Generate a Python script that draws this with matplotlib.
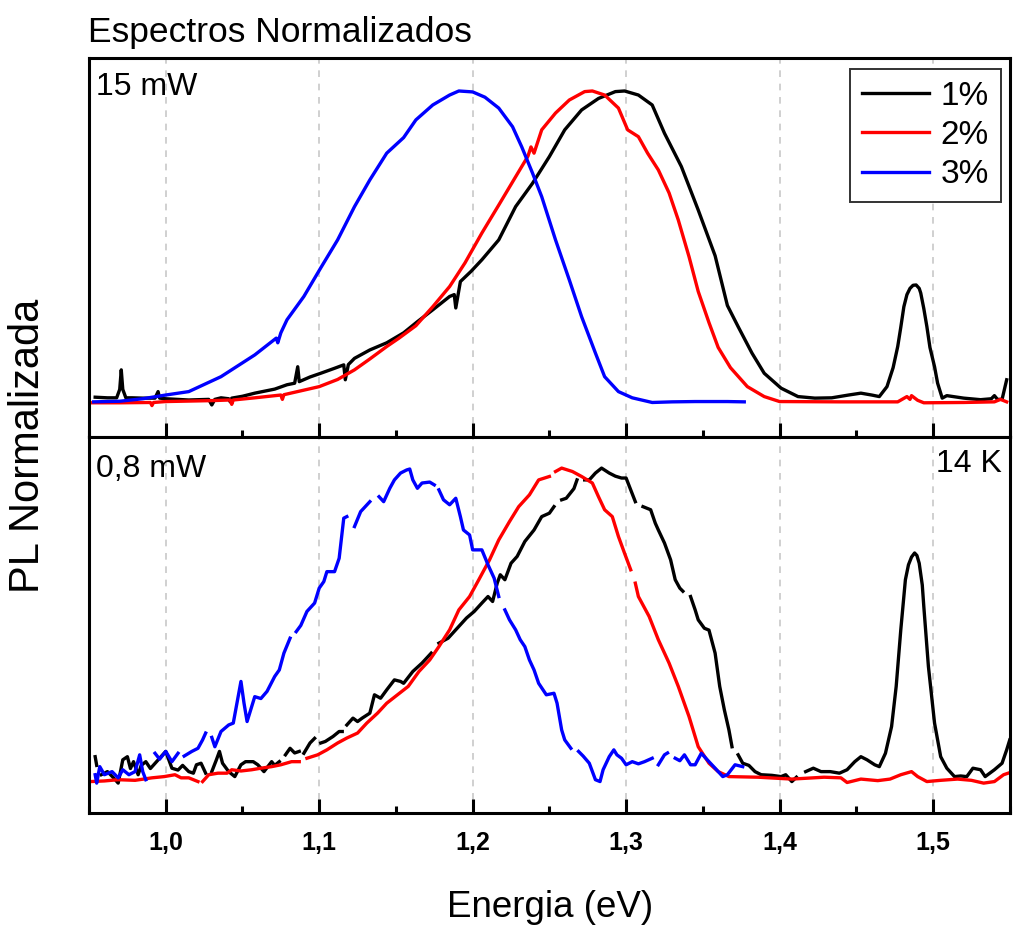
import matplotlib
matplotlib.use("Agg")
import matplotlib.pyplot as plt
from matplotlib.ticker import MultipleLocator
import numpy as np

nan = np.nan

plt.rcParams['font.family'] = ['Liberation Sans', 'DejaVu Sans']

# ---- top panel (15 mW) ----
top_e_1 = [0.954, 0.962, 0.968, 0.970, 0.971, 0.972, 0.974, 0.978, 0.985, 0.993, 0.995, 0.996,
           1.000, 1.015, 1.028, 1.030, 1.032, 1.036, 1.041, 1.042, 1.043, 1.050, 1.058, 1.071,
           1.079, 1.084, 1.086, 1.087, 1.094, 1.101, 1.110, 1.116, 1.117, 1.119, 1.123, 1.133,
           1.144, 1.155, 1.164, 1.174, 1.185, 1.188, 1.189, 1.192, 1.199, 1.206, 1.217, 1.228,
           1.239, 1.250, 1.260, 1.271, 1.282, 1.293, 1.299, 1.308, 1.317, 1.325, 1.336, 1.347,
           1.358, 1.366, 1.373, 1.382, 1.390, 1.401, 1.412, 1.423, 1.434, 1.445, 1.453, 1.460,
           1.465, 1.470, 1.474, 1.477, 1.479, 1.481, 1.483, 1.485, 1.487, 1.489, 1.491, 1.492,
           1.494, 1.496, 1.498, 1.501, 1.503, 1.506, 1.509, 1.520, 1.531, 1.538, 1.540, 1.542,
           1.545, 1.548]
top_i_1 = [0.015, 0.013, 0.013, 0.040, 0.103, 0.040, 0.013, 0.013, 0.012, 0.012, 0.033, 0.012,
           0.010, 0.006, 0.008, -0.010, 0.008, 0.013, 0.010, 0.000, 0.012, 0.018, 0.028, 0.041,
           0.055, 0.060, 0.113, 0.065, 0.080, 0.092, 0.108, 0.119, 0.071, 0.120, 0.140, 0.167,
           0.190, 0.222, 0.258, 0.296, 0.339, 0.345, 0.302, 0.387, 0.420, 0.457, 0.521, 0.628,
           0.703, 0.789, 0.875, 0.939, 0.976, 0.998, 1.000, 0.987, 0.955, 0.864, 0.757, 0.617,
           0.470, 0.310, 0.242, 0.157, 0.092, 0.044, 0.017, 0.012, 0.013, 0.022, 0.028, 0.022,
           0.017, 0.049, 0.110, 0.178, 0.240, 0.306, 0.345, 0.365, 0.375, 0.376, 0.365, 0.350,
           0.300, 0.242, 0.175, 0.113, 0.060, 0.012, 0.020, 0.012, 0.007, 0.010, 0.020, 0.008,
           0.008, 0.071]

top_e_2 = [0.950, 0.970, 0.990, 0.991, 0.992, 1.000, 1.030, 1.042, 1.043, 1.044, 1.058, 1.075,
           1.076, 1.077, 1.100, 1.112, 1.123, 1.133, 1.144, 1.152, 1.163, 1.174, 1.185, 1.195,
           1.206, 1.217, 1.228, 1.236, 1.238, 1.240, 1.245, 1.254, 1.263, 1.273, 1.278, 1.286,
           1.295, 1.301, 1.308, 1.314, 1.321, 1.328, 1.334, 1.341, 1.347, 1.354, 1.360, 1.368,
           1.379, 1.390, 1.400, 1.440, 1.477, 1.483, 1.485, 1.486, 1.490, 1.494, 1.520, 1.540,
           1.544, 1.548]
top_i_2 = [-0.003, -0.003, -0.002, -0.012, -0.002, 0.001, 0.004, 0.006, -0.008, 0.006, 0.013, 0.022,
           0.008, 0.023, 0.049, 0.072, 0.103, 0.138, 0.178, 0.205, 0.245, 0.306, 0.371, 0.447,
           0.543, 0.633, 0.724, 0.790, 0.820, 0.800, 0.875, 0.929, 0.971, 0.998, 1.000, 0.987,
           0.945, 0.875, 0.853, 0.800, 0.746, 0.672, 0.585, 0.467, 0.355, 0.255, 0.175, 0.110,
           0.049, 0.017, 0.001, 0.000, 0.000, 0.017, 0.008, 0.020, 0.005, -0.003, -0.002, 0.000,
           0.008, 0.000]

top_e_3 = [0.953, 0.970, 0.985, 1.000, 1.015, 1.036, 1.058, 1.072, 1.073, 1.075, 1.079, 1.090,
           1.101, 1.112, 1.123, 1.133, 1.144, 1.155, 1.163, 1.174, 1.185, 1.191, 1.200, 1.208,
           1.217, 1.226, 1.232, 1.239, 1.245, 1.254, 1.263, 1.271, 1.280, 1.286, 1.295, 1.304,
           1.317, 1.330, 1.345, 1.366, 1.377]
top_i_3 = [0.000, 0.002, 0.010, 0.022, 0.033, 0.081, 0.151, 0.205, 0.190, 0.222, 0.264, 0.339,
           0.431, 0.521, 0.628, 0.714, 0.800, 0.850, 0.907, 0.955, 0.987, 1.000, 0.997, 0.980,
           0.945, 0.885, 0.820, 0.736, 0.660, 0.521, 0.392, 0.274, 0.157, 0.081, 0.033, 0.013,
           -0.002, 0.000, 0.001, 0.001, 0.000]

# ---- bottom panel (0,8 mW) ----
bot_e_1 = [0.954, 0.955, nan, 0.958, 0.962, 0.966, 0.969, 0.972, 0.975, 0.977, 0.979, 0.982,
           0.984, 0.987, 0.990, 0.994, 0.997, 1.000, 1.004, 1.008, 1.011, 1.015, 1.018, 1.020,
           1.023, 1.026, nan, 1.030, 1.033, 1.035, 1.037, 1.041, 1.045, 1.049, 1.052, 1.057,
           1.060, 1.064, 1.069, 1.071, 1.074, nan, 1.078, 1.081, 1.084, 1.087, nan, 1.090,
           1.094, 1.097, nan, 1.101, 1.104, 1.109, 1.113, 1.115, nan, 1.118, 1.122, 1.125,
           1.128, 1.133, 1.136, 1.140, 1.144, 1.149, 1.153, 1.155, 1.161, 1.167, 1.173, nan,
           1.178, 1.184, 1.189, 1.196, 1.201, 1.206, 1.210, 1.213, 1.216, 1.218, 1.221, 1.225,
           1.229, 1.234, 1.240, 1.245, 1.250, 1.253, nan, 1.258, 1.261, 1.266, 1.268, nan,
           1.273, 1.276, 1.280, 1.284, 1.289, 1.293, 1.297, 1.300, 1.303, 1.306, nan, 1.311,
           1.316, 1.319, 1.321, 1.325, 1.329, 1.332, 1.335, 1.337, nan, 1.342, 1.345, 1.347,
           1.351, 1.354, 1.358, 1.361, 1.364, 1.367, 1.369, nan, 1.373, 1.376, 1.380, 1.384,
           1.388, 1.395, 1.401, 1.404, 1.408, 1.411, nan, 1.417, 1.422, 1.427, 1.433, 1.439,
           1.444, 1.449, 1.453, 1.457, 1.462, 1.465, 1.469, 1.473, 1.476, 1.479, 1.482, 1.484,
           1.486, 1.488, 1.4895, 1.491, 1.493, 1.494, 1.497, 1.501, 1.505, 1.509, 1.514, 1.518,
           1.522, 1.526, 1.531, 1.534, 1.540, 1.545, 1.548, 1.550]
bot_i_1 = [0.068, 0.040, nan, 0.010, 0.020, 0.000, -0.017, 0.058, 0.068, 0.030, 0.052, 0.010,
           0.040, 0.052, 0.030, 0.052, 0.068, 0.085, 0.031, 0.025, 0.040, 0.020, 0.015, 0.042,
           0.047, 0.015, nan, 0.020, 0.058, 0.085, 0.047, 0.020, 0.004, 0.042, 0.052, 0.052,
           0.042, 0.020, 0.052, 0.040, 0.052, nan, 0.074, 0.095, 0.080, 0.085, nan, 0.079,
           0.112, 0.127, nan, 0.112, 0.117, 0.133, 0.149, 0.149, nan, 0.170, 0.192, 0.181,
           0.192, 0.208, 0.267, 0.256, 0.283, 0.315, 0.310, 0.304, 0.342, 0.369, 0.401, nan,
           0.433, 0.449, 0.476, 0.514, 0.535, 0.562, 0.583, 0.567, 0.626, 0.653, 0.637, 0.690,
           0.712, 0.760, 0.797, 0.840, 0.851, 0.872, nan, 0.894, 0.899, 0.930, 0.958, nan,
           0.958, 0.958, 0.980, 0.996, 0.980, 0.970, 0.964, 0.964, 0.926, 0.888, nan, 0.872,
           0.862, 0.819, 0.797, 0.755, 0.701, 0.637, 0.610, 0.600, nan, 0.583, 0.540, 0.508,
           0.481, 0.475, 0.401, 0.294, 0.219, 0.154, 0.100, nan, 0.074, 0.047, 0.040, 0.020,
           0.010, 0.008, 0.004, 0.010, -0.012, 0.002, nan, 0.020, 0.031, 0.020, 0.020, 0.015,
           0.026, 0.052, 0.068, 0.058, 0.042, 0.036, 0.079, 0.165, 0.294, 0.476, 0.637, 0.685,
           0.710, 0.723, 0.715, 0.690, 0.620, 0.551, 0.358, 0.176, 0.068, 0.031, 0.004, 0.006,
           0.004, 0.031, 0.026, 0.004, 0.026, 0.047, 0.090, 0.122]

bot_e_2 = [0.951, 0.960, 0.969, 0.980, 0.991, 0.999, 1.006, 1.010, 1.015, 1.021, nan, 1.024,
           1.028, 1.034, 1.040, 1.043, 1.049, 1.056, 1.062, 1.069, 1.075, 1.082, 1.087, nan,
           1.092, 1.099, 1.105, 1.112, 1.118, 1.125, 1.131, 1.138, 1.144, 1.151, 1.158, 1.165,
           1.172, 1.178, 1.185, 1.191, 1.198, 1.204, 1.211, 1.217, 1.224, 1.230, 1.237, 1.243,
           1.250, nan, 1.254, 1.258, 1.265, 1.271, 1.278, 1.282, 1.286, 1.291, 1.295, 1.299,
           1.303, nan, 1.306, 1.308, 1.315, 1.321, 1.328, 1.334, 1.341, 1.347, 1.354, 1.360,
           1.367, 1.386, 1.408, 1.429, 1.440, 1.444, 1.453, 1.464, 1.472, 1.479, 1.486, 1.490,
           1.496, 1.505, 1.516, 1.525, 1.533, 1.540, 1.546, 1.549]
bot_i_2 = [-0.012, -0.010, -0.006, -0.008, 0.000, 0.004, 0.010, 0.000, 0.000, -0.012, nan, -0.012,
           0.010, 0.015, 0.015, 0.026, 0.022, 0.026, 0.031, 0.036, 0.042, 0.052, 0.052, nan,
           0.063, 0.074, 0.090, 0.112, 0.128, 0.144, 0.176, 0.208, 0.240, 0.267, 0.294, 0.342,
           0.379, 0.422, 0.476, 0.540, 0.583, 0.637, 0.701, 0.765, 0.824, 0.872, 0.910, 0.958,
           0.969, nan, 0.985, 0.996, 0.985, 0.969, 0.948, 0.904, 0.862, 0.840, 0.776, 0.722,
           0.669, nan, 0.626, 0.583, 0.519, 0.444, 0.369, 0.294, 0.197, 0.100, 0.047, 0.020,
           0.004, 0.002, -0.004, 0.002, 0.000, -0.015, -0.004, -0.009, -0.004, 0.010, 0.020, 0.004,
           -0.012, -0.008, -0.004, -0.008, -0.017, -0.012, 0.010, 0.015]

bot_e_3 = [0.954, 0.955, 0.957, 0.960, 0.965, 0.969, 0.972, 0.976, 0.980, 0.983, 0.985, 0.987,
           nan, 0.993, 0.996, 1.000, 1.004, 1.008, nan, 1.012, 1.017, 1.021, 1.024, 1.026,
           nan, 1.030, 1.032, 1.036, 1.041, 1.044, 1.046, 1.049, 1.051, 1.053, 1.058, 1.062,
           1.066, 1.071, 1.074, 1.077, 1.081, nan, 1.085, 1.088, 1.092, 1.097, 1.100, 1.103,
           1.105, 1.110, 1.113, 1.116, 1.118, nan, 1.123, 1.127, 1.133, nan, 1.139, 1.142,
           1.146, 1.149, 1.153, 1.157, 1.159, 1.161, 1.164, 1.167, 1.172, 1.175, nan, 1.178,
           1.181, 1.185, 1.189, 1.192, 1.194, 1.198, 1.200, 1.206, 1.210, 1.214, 1.217, nan,
           1.221, 1.224, 1.228, 1.231, 1.234, 1.237, 1.240, 1.243, 1.248, 1.253, 1.255, 1.258,
           1.260, 1.264, nan, 1.269, 1.272, 1.276, 1.280, 1.283, 1.285, 1.289, 1.292, 1.294,
           1.297, 1.300, 1.304, 1.308, 1.312, 1.317, nan, 1.321, 1.325, 1.327, nan, 1.332,
           1.335, 1.338, 1.342, 1.345, 1.349, 1.354, 1.358, 1.363, 1.366, 1.371, 1.376]
bot_i_3 = [0.010, -0.017, 0.036, 0.010, 0.020, 0.000, 0.026, 0.010, 0.020, 0.074, 0.020, -0.006,
           nan, 0.079, 0.060, 0.085, 0.052, 0.079, nan, 0.070, 0.085, 0.095, 0.122, 0.144,
           nan, 0.130, 0.100, 0.149, 0.170, 0.176, 0.229, 0.310, 0.240, 0.181, 0.261, 0.255,
           0.278, 0.326, 0.347, 0.401, 0.449, nan, 0.470, 0.490, 0.535, 0.562, 0.610, 0.631,
           0.663, 0.663, 0.706, 0.835, 0.840, nan, 0.808, 0.856, 0.888, nan, 0.904, 0.888,
           0.931, 0.958, 0.980, 0.990, 0.993, 0.958, 0.931, 0.948, 0.951, 0.942, nan, 0.926,
           0.894, 0.878, 0.899, 0.840, 0.797, 0.781, 0.733, 0.733, 0.685, 0.642, 0.583, nan,
           0.540, 0.508, 0.476, 0.444, 0.422, 0.379, 0.347, 0.304, 0.267, 0.272, 0.240, 0.154,
           0.122, 0.095, nan, 0.085, 0.070, 0.047, -0.006, -0.012, 0.026, 0.068, 0.090, 0.074,
           0.063, 0.042, 0.052, 0.045, 0.052, 0.063, nan, 0.042, 0.074, 0.080, nan, 0.063,
           0.055, 0.074, 0.042, 0.042, 0.079, 0.052, 0.031, 0.004, 0.010, 0.042, 0.036]

labels = ['1%', '2%', '3%']
colors = ['#000000', '#ff0000', '#0000ff']
tick_vals = [1.0, 1.1, 1.2, 1.3, 1.4, 1.5]
tick_labels = ['1,0', '1,1', '1,2', '1,3', '1,4', '1,5']

fig = plt.figure(figsize=(10.14, 9.27), dpi=100)
ax1 = fig.add_axes([0.0878, 0.5286, 0.908, 0.4088])
ax2 = fig.add_axes([0.0878, 0.1230, 0.908, 0.4056])

top_data = [(top_e_1, top_i_1), (top_e_2, top_i_2), (top_e_3, top_i_3)]
bot_data = [(bot_e_1, bot_i_1), (bot_e_2, bot_i_2), (bot_e_3, bot_i_3)]

for (e, i), c, lab in zip(top_data, colors, labels):
    ax1.plot(e, i, color=c, lw=2.4, label=lab)
for (e, i), c in zip(bot_data, colors):
    ax2.plot(e, i, color=c, lw=2.4)

for ax in (ax1, ax2):
    ax.set_xlim(0.95, 1.55)
    ax.set_yticks([])
    ax.set_xticks(tick_vals)
    ax.xaxis.set_minor_locator(MultipleLocator(0.05))
    ax.tick_params(axis='x', which='major', direction='in', length=10, width=2.2, pad=13)
    ax.tick_params(axis='x', which='minor', direction='in', length=5, width=2.2)
    for x in tick_vals:
        ax.axvline(x, color='#c8c8c8', lw=1.2, ls=(0, (4, 4)), zorder=0)
    for s in ax.spines.values():
        s.set_linewidth(2.2)

ax1.set_ylim(-0.113, 1.106)
ax2.set_ylim(-0.113, 1.096)
ax1.tick_params(axis='x', labelbottom=False)
ax2.set_xticklabels(tick_labels, fontsize=18, fontweight='bold')

leg = ax1.legend(loc='upper right', bbox_to_anchor=(0.990, 0.971), borderaxespad=0,
                 fontsize=24, handlelength=2.0, handletextpad=0.35, labelspacing=0.25,
                 fancybox=False, framealpha=1, edgecolor='#333333', borderpad=0.35)
leg.get_frame().set_linewidth(1.4)

ax1.text(0.0076, 0.963, '15 mW', transform=ax1.transAxes, ha='left', va='top', fontsize=23)
ax2.text(0.0076, 0.955, '0,8 mW', transform=ax2.transAxes, ha='left', va='top', fontsize=23)
ax2.text(0.991, 0.968, '14 K', transform=ax2.transAxes, ha='right', va='top', fontsize=23)

fig.text(0.0868, 0.9547, 'Espectros Normalizados', ha='left', va='baseline', fontsize=25.5)
fig.text(0.542, 0.0108, 'Energia (eV)', ha='center', va='baseline', fontsize=26.5)
fig.text(0.0276, 0.519, 'PL Normalizada', rotation=90, ha='center', va='center', fontsize=30)

fig.savefig('out.png', dpi=100)
